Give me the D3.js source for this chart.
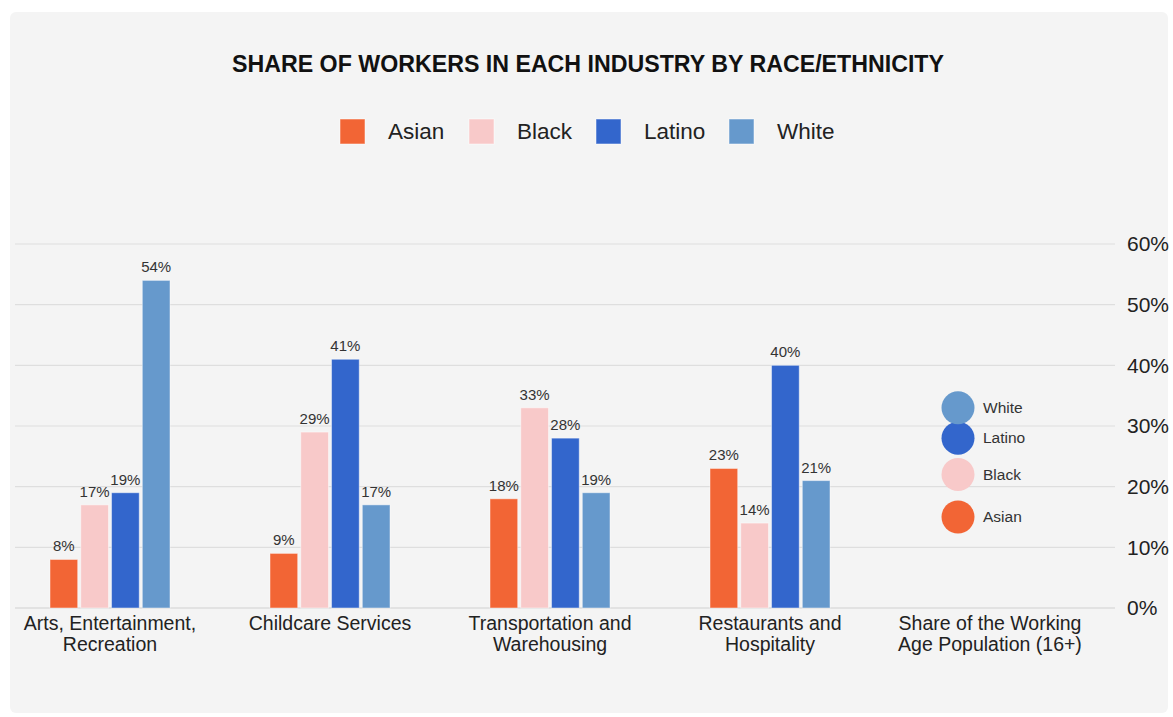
<!DOCTYPE html>
<html><head><meta charset="utf-8">
<script src="https://cdn.jsdelivr.net/npm/d3@7"></script>
<style>body{margin:0;background:#fff;font-family:"Liberation Sans",Arial,sans-serif;}</style>
</head><body>
<svg id="chart" width="1173" height="717"></svg>
<script>
const categories = [["Arts, Entertainment,","Recreation"],["Childcare Services"],["Transportation and","Warehousing"],["Restaurants and","Hospitality"],["Share of the Working","Age Population (16+)"]];
const series = ["Asian","Black","Latino","White"];
const colors = ["#f26535","#f8c9c9","#3366cc","#6699cc"];
const asianValues  = [8, 9, 18, 23];
const blackValues  = [17, 29, 33, 14];
const latinoValues = [19, 41, 28, 40];
const whiteValues  = [54, 17, 19, 21];
const populationShare = [15, 22, 28, 33]; // Asian, Black, Latino, White
const yTicks = [0, 10, 20, 30, 40, 50, 60];
const title = "SHARE OF WORKERS IN EACH INDUSTRY BY RACE/ETHNICITY";

const svg = d3.select("#chart");
svg.append("rect").attr("x",10).attr("y",12).attr("width",1158).attr("height",701).attr("rx",6).attr("fill","#f4f4f4");

svg.append("text").attr("x",588).attr("y",72).attr("text-anchor","middle")
  .attr("font-size",23.2).attr("font-weight","bold").attr("fill","#111").text(title);

// legend
const legendX = [340, 469, 596, 729];
series.forEach((s,i)=>{
  const g = svg.append("g").attr("transform",`translate(${legendX[i]},119)`);
  g.append("rect").attr("width",25).attr("height",25).attr("fill",colors[i]).attr("stroke","#fff").attr("stroke-opacity",0.5);
  g.append("text").attr("x",48).attr("y",20).attr("font-size",22.5).attr("fill","#222").text(s);
});

const left = 0, right = 1100;
const y = d3.scaleLinear().domain([0,60]).range([608,244]);
const x0 = d3.scaleBand().domain(d3.range(categories.length)).range([left,right]);
const x1 = d3.scaleBand().domain(series).range([0,120]).paddingInner(0.1);

// gridlines
svg.append("g").selectAll("line").data(yTicks).join("line")
  .attr("x1",15).attr("x2",1115).attr("y1",d=>y(d)).attr("y2",d=>y(d))
  .attr("stroke",d=>d===0?"#cfcfcf":"#dedede").attr("stroke-width",1.2);

// y axis labels on right
const yAxis = d3.axisRight(y).tickValues(yTicks).tickFormat(d=>d+"%").tickSize(0).tickPadding(0);
const ya = svg.append("g").attr("transform","translate(1127,0)").call(yAxis);
ya.select(".domain").remove();
ya.selectAll("text").attr("font-size",21).attr("fill","#222").attr("font-family","Liberation Sans, Arial, sans-serif");

// bars
const allValues = [asianValues, blackValues, latinoValues, whiteValues];
const barData = [];
for (let c=0;c<4;c++) series.forEach((s,i)=>barData.push({c, s, i, v: allValues[i][c]}));
const bx = d => x0(d.c) + x0.bandwidth()/2 - 60 + x1(d.s);
svg.append("g").selectAll("rect").data(barData).join("rect")
  .attr("x",bx).attr("y",d=>y(d.v)).attr("width",x1.bandwidth()).attr("height",d=>y(0)-y(d.v))
  .attr("fill",d=>colors[d.i]).attr("stroke","#fff").attr("stroke-opacity",0.45).attr("stroke-width",1);
svg.append("g").selectAll("text").data(barData).join("text")
  .attr("x",d=>bx(d)+x1.bandwidth()/2).attr("y",d=>y(d.v)-8)
  .attr("text-anchor","middle").attr("font-size",15).attr("fill","#333").text(d=>d.v+"%");

// population share circles
const cx = x0(4) + x0.bandwidth()/2 - 32;
const pg = svg.append("g");
series.forEach((s,i)=>{
  pg.append("circle").attr("cx",cx).attr("cy",y(populationShare[i])).attr("r",16.5).attr("fill",colors[i]);
});
series.forEach((s,i)=>{
  pg.append("text").attr("x",cx+25).attr("y",y(populationShare[i])+5).attr("font-size",15.5).attr("fill","#333").text(s);
});

// category labels
const cg = svg.append("g");
categories.forEach((lines,c)=>{
  const t = cg.append("text").attr("x",x0(c)+x0.bandwidth()/2).attr("y",630).attr("text-anchor","middle").attr("font-size",19.5).attr("fill","#222");
  lines.forEach((l,k)=>t.append("tspan").attr("x",x0(c)+x0.bandwidth()/2).attr("dy",k===0?0:21).text(l));
});
</script>
</body></html>
